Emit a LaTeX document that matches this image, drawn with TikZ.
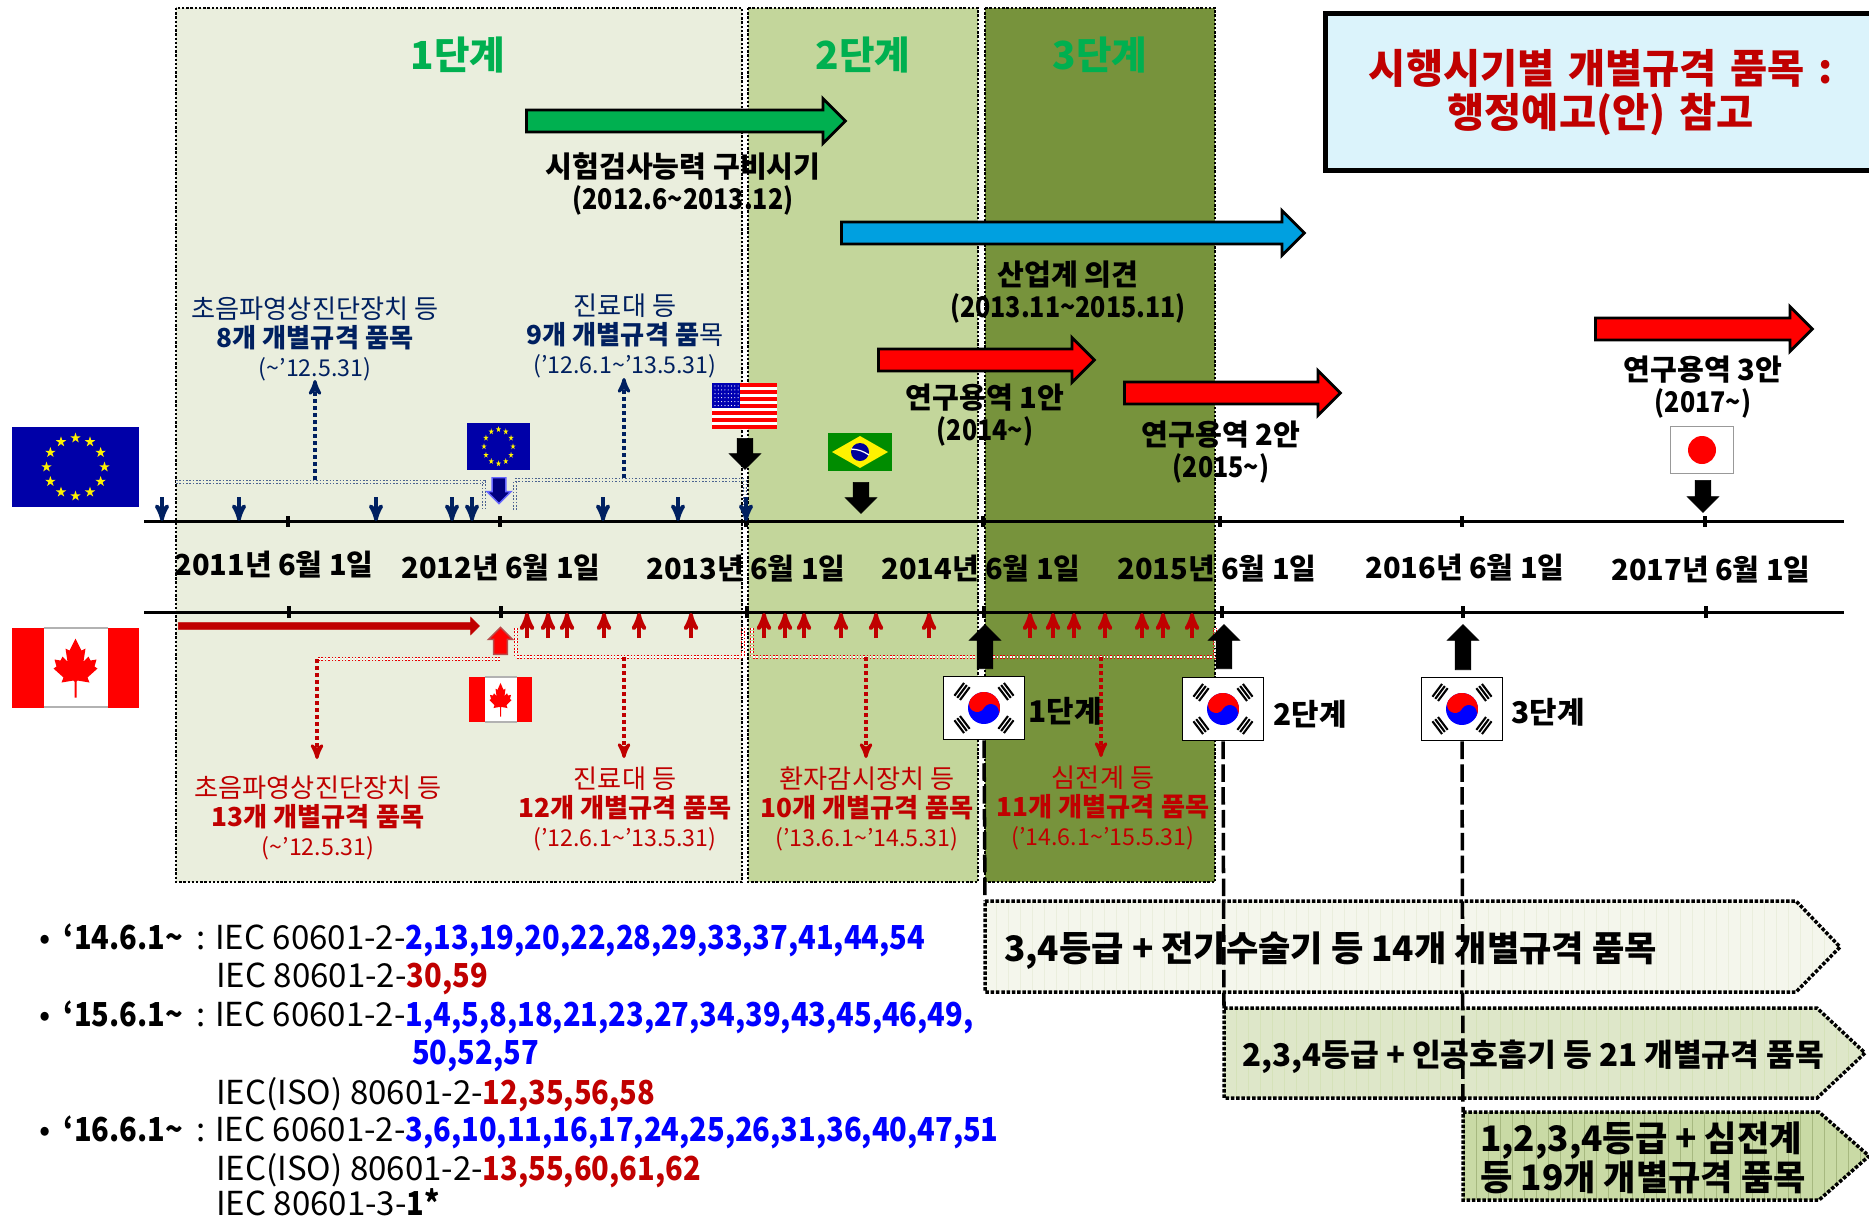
\documentclass[tikz,border=0pt]{standalone}
\usepackage{fontspec}
\setmainfont{Noto Sans CJK KR}
\newfontfamily\listfont{Noto Sans CJK KR}[BoldFeatures={FakeStretch=.88}]
\usetikzlibrary{arrows,shapes.arrows}

\definecolor{bandone}{HTML}{EAEEDD}
\definecolor{bandtwo}{HTML}{C3D69B}
\definecolor{bandthree}{HTML}{77933C}
\definecolor{titlefill}{HTML}{DBF3FB}
\definecolor{phasegreen}{HTML}{00B050}
\definecolor{eunavy}{HTML}{002060}
\definecolor{cared}{HTML}{C00000}
\definecolor{arrowblue}{HTML}{00A0E0}
\definecolor{flagblue}{HTML}{0000A8}

\newcommand{\capdate}[1]{{\listfont\fontsize{16.2}{18}\selectfont #1}}
\newcommand{\thindate}[1]{{\fontsize{13.2}{16.5}\selectfont #1}}

\tikzset{
	band/.style={draw=black,densely dotted,line width=1.4pt},
	blockarrow/.style={single arrow,draw=black,anchor=tail,
		single arrow head indent=0pt,single arrow tip angle=90},
	timearrow/.style={blockarrow,line width=1.6pt,inner sep=5.5pt,single arrow head extend=6.5pt},
	flagarrow/.style={blockarrow,fill=black,inner sep=4.25pt,single arrow head extend=4.5pt},
	caption/.style={align=center,font=\fontsize{16.6}{18}\selectfont\bfseries},
	yearlabel/.style={font=\fontsize{16.5}{18}\selectfont\bfseries},
	steplabel/.style={font=\fontsize{17}{18}\selectfont\bfseries},
	phaselabel/.style={text=phasegreen,font=\fontsize{22}{26}\selectfont\bfseries},
	navytext/.style={text=eunavy,align=center,font=\fontsize{14.9}{16.5}\selectfont},
	redtext/.style={text=cared,align=center,font=\fontsize{14.9}{16.5}\selectfont},
	listline/.style={anchor=west,inner ysep=0pt,font=\listfont\fontsize{18.8}{20}\selectfont},
	pentagon/.style={draw=black,densely dotted,line width=2pt},
	pentext/.style={anchor=west,align=left,font=\fontsize{20}{22.5}\selectfont\bfseries},
	flagbox/.style={fill=white,draw=black,line width=1.1pt,inner sep=0pt},
	navylink/.style={->,eunavy,dash pattern=on 2pt off 2pt,line width=1.8pt},
	redlink/.style={->,cared,dash pattern=on 2pt off 2pt,line width=1.8pt},
	navyrail/.style={double=bandone,draw=eunavy!70,densely dotted,line width=.9pt,double distance=.8pt},
	redrail/.style={double=white,draw=red!90!black,densely dotted,line width=.9pt,double distance=.8pt},
	navymark/.style={->,eunavy,line width=2.1pt},
	redmark/.style={->,cared,line width=2.2pt},
	stageline/.style={dash pattern=on 10pt off 3pt,line width=2pt},
	euflag/.pic={
		\fill[flagblue] (-63.5,-40) rectangle (63.5,40);
		\foreach \a in {0,30,...,330}
			\fill[yellow,shift={(\a:29)}] (270:5.5) -- (54:5.5) -- (198:5.5) -- (342:5.5) -- (126:5.5) -- cycle;
	},
	caflag/.pic={
		\fill[red] (-63.5,-40) rectangle (63.5,40);
		\fill[white] (-32,-39) rectangle (32,39);
		\draw[black!30,line width=.6pt] (-32,-39.5) -- (32,-39.5) (-32,39.5) -- (32,39.5);
		\fill[red] (0,-29) -- (6,-17) -- (10,-19) -- (8,-6) -- (13,-11) -- (15,-7) -- (21,-8) -- (19,-1) -- (22,1)
			-- (12,10) -- (14,15) -- (2,13) -- (1,14) -- (1,30) -- (-1,30) -- (-1,14) -- (-2,13) -- (-14,15)
			-- (-12,10) -- (-22,1) -- (-19,-1) -- (-21,-8) -- (-15,-7) -- (-13,-11) -- (-8,-6) -- (-10,-19) -- (-6,-17) -- cycle;
	},
	krflag/.pic={
		\foreach \a in {-37,37,143,217}
			\foreach \r in {24,27.5,31}
				\draw[black,line width=1.2pt,rotate=\a] (\r,-8) -- (\r,8);
		\begin{scope}[rotate=-30]
			\fill[blue] (0,0) circle (16);
			\fill[red] (-16,0) arc (180:360:16) -- cycle;
			\fill[red] (-8,0) circle (8);
			\fill[blue] (8,0) circle (8);
		\end{scope}
	},
}

\begin{document}
\begin{tikzpicture}[x=0.02cm,y=-0.02cm,>=stealth']
	\useasboundingbox (0,0) rectangle (1869,1217);

	% phases
	\fill[bandone] (176,8) rectangle (742,882);
	\fill[bandtwo] (748,8) rectangle (978,882);
	\fill[bandthree] (985,8) rectangle (1215,882);
	\draw[band] (176,8) rectangle (742,882);
	\draw[band] (748,8) rectangle (978,882);
	\draw[band] (985,8) rectangle (1215,882);
	\node[phaselabel] (phaseA) at (458,55) {1단계};
	\node[phaselabel] (phaseB) at (863,55) {2단계};
	\node[phaselabel] (phaseC) at (1100,55) {3단계};

	% title
	\node[draw=black,fill=titlefill,line width=3pt,minimum width=550*0.02cm,minimum height=157*0.02cm,
		align=center,text=cared,font=\fontsize{23}{25}\selectfont\bfseries,anchor=north west,text width=500*0.02cm] (title) at (1323,11)
		{시행시기별 개별규격 품목 :\\행정예고(안) 참고};

	% period arrows
	\node[timearrow,fill=phasegreen,minimum height=319*0.02cm] (aTest) at (525,121) {};
	\node[timearrow,fill=arrowblue,minimum height=463*0.02cm] (aInd) at (840,233) {};
	\node[timearrow,fill=red,minimum height=216*0.02cm] (aStudyA) at (877,360) {};
	\node[timearrow,fill=red,minimum height=216*0.02cm] (aStudyB) at (1123,393) {};
	\node[timearrow,fill=red,minimum height=217*0.02cm] (aStudyC) at (1594,329) {};
	\node[caption] (cTest) at (683,184) {시험검사능력 구비시기\\\capdate{(2012.6\textasciitilde2013.12)}};
	\node[caption] (cInd) at (1068,292) {산업계 의견\\\capdate{(2013.11\textasciitilde2015.11)}};
	\node[caption] (cStudyA) at (985,415) {연구용역 1안\\\capdate{(2014\textasciitilde)}};
	\node[caption] (cStudyB) at (1221,452) {연구용역 2안\\\capdate{(2015\textasciitilde)}};
	\node[caption] (cStudyC) at (1703,387) {연구용역 3안\\\capdate{(2017\textasciitilde)}};

	% time axes
	\coordinate (upA) at (144,521);
	\coordinate (upB) at (1844,521);
	\coordinate (loA) at (144,612);
	\coordinate (loB) at (1844,612);
	\draw[line width=1.7pt] (upA) -- (upB);
	\draw[line width=1.7pt] (loA) -- (loB);
	\foreach \x in {288,500,746,983,1220,1462,1705}
		\draw[line width=2.2pt] (\x,516) -- (\x,527);
	\foreach \x in {289,501,747,984,1222,1463,1706}
		\draw[line width=2.2pt] (\x,606) -- (\x,618);
	\node[yearlabel] (yA) at (274,565) {2011년 6월 1일};
	\node[yearlabel] (yB) at (501,568) {2012년 6월 1일};
	\node[yearlabel] (yC) at (746,569) {2013년 6월 1일};
	\node[yearlabel] (yD) at (981,569) {2014년 6월 1일};
	\node[yearlabel] (yE) at (1217,569) {2015년 6월 1일};
	\node[yearlabel] (yF) at (1465,568) {2016년 6월 1일};
	\node[yearlabel] (yG) at (1711,570) {2017년 6월 1일};

	% side flags
	\pic at (75.5,467) {euflag};
	\pic at (75.5,667.5) {caflag};

	% upper side
	\node[navytext] (nUltra) at (315,339) {초음파영상진단장치 등\\\textbf{8개 개별규격 품목}\\\thindate{(\textasciitilde’12.5.31)}};
	\node[navytext] (nTable) at (625,336) {진료대 등\\\textbf{9개 개별규격 품}목\\\thindate{(’12.6.1\textasciitilde’13.5.31)}};
	\coordinate (railA) at (176,482);
	\coordinate (railB) at (484,482);
	\coordinate (railC) at (484,510);
	\coordinate (railD) at (515,510);
	\coordinate (railE) at (515,480);
	\coordinate (railF) at (745,480);
	\coordinate (railG) at (745,510);
	\draw[navyrail] (railA) -- (railB) -- (railC);
	\draw[navyrail] (railD) -- (railE) -- (railF) -- (railG);
	\coordinate (navyA) at (315,480);
	\coordinate (navyB) at (624,478);
	\coordinate (tipA) at (315,380);
	\coordinate (tipB) at (624,378);
	\draw[navylink] (navyA) -- (tipA);
	\draw[navylink] (navyB) -- (tipB);
	\foreach \x in {162,239,376,452,472,603,678,746} {
		\coordinate (navyT\x) at (\x,497);
		\coordinate (navyB\x) at (\x,521);
		\draw[navymark] (navyT\x) -- (navyB\x);
	}
	\pic[xscale=.5,yscale=.59] at (498.5,446.5) {euflag};
	\node[blockarrow,fill=blue!50!black,draw=blue!60!white,line width=.8pt,shape border rotate=270,
		inner sep=3.5pt,single arrow head extend=3pt,minimum height=26*0.02cm] (aEu) at (499,477) {};

	% us, brazil, japan
	\fill[white] (712,383) rectangle (777,429);
	\foreach \i in {0,2,...,12}
		\fill[red] (712,383+\i*3.54) rectangle (777,383+\i*3.54+3.54);
	\fill[blue!70!black] (712,383) rectangle (740,408);
	\foreach \i in {0,...,7}
		\foreach \j in {0,...,5}
			\fill[white] (715+\i*3.3,386+\j*3.9) circle (.6);
	\fill[green!55!black] (828,433) rectangle (892,471);
	\fill[yellow] (832,452) -- (860,436) -- (888,452) -- (860,468) -- cycle;
	\fill[blue!60!black] (860,452) circle (9);
	\draw[white,line width=.7pt] (851,449) to[bend left=15] (869,455);
	\node[flagbox,draw=black!40,minimum width=63*0.02cm,minimum height=47*0.02cm] (jpFlag) at (1702,450) {};
	\fill[red] (jpFlag.center) circle (14);
	\node[flagarrow,shape border rotate=270,minimum height=31*0.02cm] (aUs) at (745,438) {};
	\node[flagarrow,shape border rotate=270,minimum height=31*0.02cm] (aBr) at (861,482) {};
	\node[flagarrow,shape border rotate=270,minimum height=32*0.02cm] (aJp) at (1703,480) {};

	% lower side
	\node[blockarrow,fill=cared,draw=cared,inner sep=1.7pt,single arrow head extend=3pt,minimum height=301*0.02cm] (aCa) at (178,626) {};
	\node[blockarrow,fill=red,draw=red!60!black!70,line width=.8pt,shape border rotate=90,
		inner sep=3.5pt,single arrow head extend=3pt,minimum height=27*0.02cm] (aCaB) at (500.5,655) {};
	\pic[xscale=.5,yscale=.57] at (500.5,699.5) {caflag};
	\node[redtext] (rUltra) at (318,818) {초음파영상진단장치 등\\\textbf{13개 개별규격 품목}\\\thindate{(\textasciitilde’12.5.31)}};
	\node[redtext] (rTable) at (625,809) {진료대 등\\\textbf{12개 개별규격 품목}\\\thindate{(’12.6.1\textasciitilde’13.5.31)}};
	\node[redtext] (rMon) at (867,809) {환자감시장치 등\\\textbf{10개 개별규격 품목}\\\thindate{(’13.6.1\textasciitilde’14.5.31)}};
	\node[redtext] (rEcg) at (1103,808) {심전계 등\\\textbf{11개 개별규격 품목}\\\thindate{(’14.6.1\textasciitilde’15.5.31)}};
	\coordinate (pathA) at (500,659);
	\coordinate (pathB) at (317,659);
	\coordinate (pathC) at (516,628);
	\coordinate (pathD) at (516,657);
	\coordinate (pathE) at (743,657);
	\coordinate (pathF) at (743,628);
	\coordinate (pathG) at (752,628);
	\coordinate (pathH) at (752,657);
	\coordinate (pathI) at (1215,657);
	\coordinate (pathJ) at (1215,628);
	\draw[redrail] (pathA) -- (pathB);
	\draw[redrail] (pathC) -- (pathD) -- (pathE) -- (pathF);
	\draw[redrail] (pathG) -- (pathH) -- (pathI) -- (pathJ);
	\coordinate (tipC) at (317,759);
	\coordinate (forkD) at (624,657);
	\coordinate (tipD) at (624,758);
	\coordinate (forkE) at (866,657);
	\coordinate (tipE) at (866,758);
	\coordinate (forkF) at (1101,657);
	\coordinate (tipF) at (1101,757);
	\draw[redlink] (pathB) -- (tipC);
	\draw[redlink] (forkD) -- (tipD);
	\draw[redlink] (forkE) -- (tipE);
	\draw[redlink] (forkF) -- (tipF);
	\foreach \x in {527,548,567,604,639,691,764,785,804,841,876,929,1030,1053,1074,1105,1142,1163,1192} {
		\coordinate (redT\x) at (\x,638);
		\coordinate (redB\x) at (\x,613);
		\draw[redmark] (redT\x) -- (redB\x);
	}

	% korea
	\node[flagbox,minimum width=81*0.02cm,minimum height=63*0.02cm] (krA) at (984,708) {};
	\node[flagbox,minimum width=81*0.02cm,minimum height=63*0.02cm] (krB) at (1223,709) {};
	\node[flagbox,minimum width=81*0.02cm,minimum height=63*0.02cm] (krC) at (1462,709) {};
	\pic at (krA) {krflag};
	\pic at (krB) {krflag};
	\pic at (krC) {krflag};
	\node[steplabel] (stA) at (1065,711) {1단계};
	\node[steplabel] (stB) at (1310,714) {2단계};
	\node[steplabel] (stC) at (1548,712) {3단계};
	\node[flagarrow,shape border rotate=90,minimum height=44*0.02cm] (aKrA) at (985,669) {};
	\node[flagarrow,shape border rotate=90,minimum height=44*0.02cm] (aKrB) at (1224,669) {};
	\node[flagarrow,shape border rotate=90,minimum height=45*0.02cm] (aKrC) at (1463,670) {};

	% classes
	\coordinate (tierA) at (985,901);
	\coordinate (tierB) at (1224,1008);
	\coordinate (tierC) at (1463,1112);
	\fill[bandone!55] (tierA) -- (1796,901) -- (1840,947) -- (1796,992) -- (985,992) -- cycle;
	\begin{scope}
		\clip (tierA) -- (1796,901) -- (1840,947) -- (1796,992) -- (985,992) -- cycle;
		\draw[bandone,line width=.4pt,step=12] (985,901) grid (1840,992);
	\end{scope}
	\draw[pentagon] (tierA) -- (1796,901) -- (1840,947) -- (1796,992) -- (985,992) -- cycle;
	\fill[bandone!70!bandtwo] (tierB) -- (1817,1008) -- (1865,1053) -- (1817,1098) -- (1224,1098) -- cycle;
	\begin{scope}
		\clip (tierB) -- (1817,1008) -- (1865,1053) -- (1817,1098) -- (1224,1098) -- cycle;
		\draw[bandtwo!70,line width=.4pt,step=12] (1224,1008) grid (1865,1098);
	\end{scope}
	\draw[pentagon] (tierB) -- (1817,1008) -- (1865,1053) -- (1817,1098) -- (1224,1098) -- cycle;
	\fill[bandtwo!90!white] (tierC) -- (1819,1112) -- (1869,1156) -- (1819,1200) -- (1463,1200) -- cycle;
	\begin{scope}
		\clip (tierC) -- (1819,1112) -- (1869,1156) -- (1819,1200) -- (1463,1200) -- cycle;
		\draw[bandthree!65,line width=.4pt,step=12] (1463,1112) grid (1869,1200);
	\end{scope}
	\draw[pentagon] (tierC) -- (1819,1112) -- (1869,1156) -- (1819,1200) -- (1463,1200) -- cycle;
	\draw[stageline] (krA.south) -- (tierA);
	\draw[stageline] (krB.south) -- (tierB);
	\draw[stageline] (krC.south) -- (tierC);
	\node[pentext] (tA) at (998,951) {3,4등급 + 전기수술기 등 14개 개별규격 품목};
	\node[pentext,font=\fontsize{17.8}{22}\selectfont\bfseries] (tB) at (1236,1057) {2,3,4등급 + 인공호흡기 등 21 개별규격 품목};
	\node[pentext] (tC) at (1474,1158) {1,2,3,4등급 + 심전계\\등 19개 개별규격 품목};

	% list
	\node[listline] (rowA) at (33,937) {•\hspace{3.4pt} \textbf{‘14.6.1\textasciitilde}};
	\node[listline] (rowAb) at (190,941) {: IEC 60601-2-\textcolor{blue}{\textbf{2,13,19,20,22,28,29,33,37,41,44,54}}};
	\node[listline] (rowB) at (210,979) {IEC 80601-2-\textcolor{cared}{\textbf{30,59}}};
	\node[listline] (rowC) at (33,1014) {•\hspace{3.4pt} \textbf{‘15.6.1\textasciitilde}};
	\node[listline] (rowCb) at (190,1018) {: IEC 60601-2-\textcolor{blue}{\textbf{1,4,5,8,18,21,23,27,34,39,43,45,46,49,}}};
	\node[listline] (rowD) at (406,1056) {\textcolor{blue}{\textbf{50,52,57}}};
	\node[listline] (rowE) at (210,1095) {IEC(ISO) 80601-2-\textcolor{cared}{\textbf{12,35,56,58}}};
	\node[listline] (rowF) at (33,1129) {•\hspace{3.4pt} \textbf{‘16.6.1\textasciitilde}};
	\node[listline] (rowFb) at (190,1133) {: IEC 60601-2-\textcolor{blue}{\textbf{3,6,10,11,16,17,24,25,26,31,36,40,47,51}}};
	\node[listline] (rowG) at (210,1171) {IEC(ISO) 80601-2-\textcolor{cared}{\textbf{13,55,60,61,62}}};
	\node[listline] (rowH) at (210,1202) {IEC 80601-3-\textbf{1*}};
\end{tikzpicture}
\end{document}
